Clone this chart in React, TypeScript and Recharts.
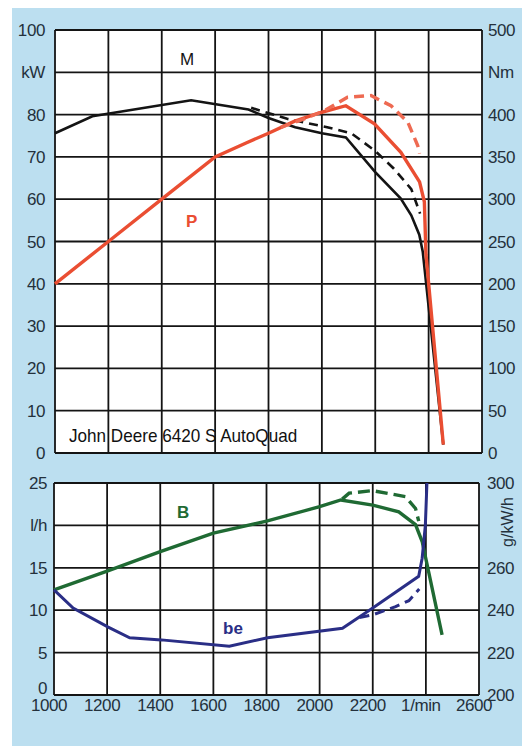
import React from 'react';
import { LineChart, Line, XAxis, YAxis, CartesianGrid } from 'recharts';

// engine speed axis (shared by both panels)
const rpmTicks = [1000, 1200, 1400, 1600, 1800, 2000, 2200, 2400, 2600];
const rpmTickLabels = ['1000', '1200', '1400', '1600', '1800', '2000', '2200', '1/min', '2600'];

// upper panel axes
const kwTicks = [0, 10, 20, 30, 40, 50, 60, 70, 80, 90, 100];
const kwTickLabels = ['0', '10', '20', '30', '40', '50', '60', '70', '80', 'kW', '100'];
const nmTicks = [0, 50, 100, 150, 200, 250, 300, 350, 400, 450, 500];
const nmTickLabels = ['0', '50', '100', '150', '200', '250', '300', '350', '400', 'Nm', '500'];

// lower panel axes
const lhTicks = [0, 5, 10, 15, 20, 25];
const lhTickLabels = ['0', '5', '10', '15', 'l/h', '25'];
const beTicks = [200, 220, 240, 260, 280, 300];
const beTickLabels = ['200', '220', '240', '260', '', '300'];

// M - torque (Nm)
const torqueRpm = [1000, 1140, 1510, 1725, 1800, 1900, 2000, 2090, 2200, 2295, 2335, 2365, 2378, 2455];
const torqueNm = [378, 398, 417, 406, 396, 385, 378, 373, 332, 301, 281, 258, 238, 10];
const torqueDashRpm = [1735, 1870, 2020, 2110, 2200, 2270, 2335, 2368];
const torqueDashNm = [408, 395, 385, 378, 357, 336, 312, 283];

// P - power (kW)
const powerRpm = [1000, 1200, 1400, 1600, 1716, 1800, 1896, 1996, 2090, 2197, 2296, 2366, 2384, 2390, 2455];
const powerKw = [40, 50, 60, 70, 73.3, 75.6, 78.4, 80.5, 82.1, 77.8, 71.1, 64.1, 59.4, 47, 2];
const powerDashRpm = [1846, 1934, 2009, 2096, 2184, 2259, 2322, 2359, 2366];
const powerDashKw = [77.0, 79.0, 80.9, 84.1, 84.5, 82.1, 78.2, 72.7, 70.8];

// B - fuel consumption (l/h)
const fuelRpm = [1000, 1200, 1400, 1600, 1800, 2000, 2080, 2200, 2298, 2361, 2386, 2461];
const fuelLh = [12.4, 14.6, 16.9, 19.1, 20.5, 22.2, 23.0, 22.4, 21.6, 20.1, 18.1, 7.1];
const fuelDashRpm = [2085, 2111, 2198, 2323, 2361, 2373];
const fuelDashLh = [23.1, 23.8, 24.1, 23.4, 22.0, 20.5];

// be - specific consumption (g/kWh)
const beRpm = [1000, 1072, 1204, 1285, 1404, 1660, 1804, 2086, 2200, 2373, 2386, 2398, 2404];
const beG = [249.6, 241, 232, 227, 226, 223, 227, 231.5, 241, 256, 264.5, 280, 300];
const beDashRpm = [2150, 2200, 2286, 2336, 2375];
const beDashG = [236.5, 237.8, 241.7, 244.5, 250];

const zip = (xs: number[], ys: number[]) => xs.map((rpm, i) => ({ rpm, v: ys[i] }));

const font = "'Liberation Sans', Arial, sans-serif";
const tickStyle = { fill: '#24313c', fontSize: 17, fontFamily: font, letterSpacing: -0.4 };
const label = (ticks: number[], labels: string[]) => (v: number) => labels[ticks.indexOf(v)] ?? '';

const RED = '#ea4e32';
const BLACK = '#141414';
const GREEN = '#1f6a33';
const BLUE = '#2a2e86';

// lower-left "0" sits a little higher so it clears the speed labels
const LowerLeftTick = (props: any) => {
  const { x, y, payload } = props;
  const lift = payload.value === 0 ? -7 : 0;
  return (
    <text x={x} y={y + lift} dy="0.355em" textAnchor="end" {...tickStyle}>
      {label(lhTicks, lhTickLabels)(payload.value)}
    </text>
  );
};

const text = (s: string, left: number, top: number, extra: React.CSSProperties = {}) => (
  <div style={{ position: 'absolute', left, top, fontFamily: font, fontSize: 17, lineHeight: 1, whiteSpace: 'nowrap', ...extra }}>
    {s}
  </div>
);

export default function App() {
  return (
    <div style={{ position: 'relative', margin: -8, width: 530, height: 754, background: '#fff', overflow: 'hidden' }}>
      <div style={{ position: 'absolute', left: 12, top: 8, width: 518, height: 741, background: '#bcdff0' }} />

      <div style={{ position: 'absolute', left: 0, top: 0 }}>
        <LineChart width={530} height={472} margin={{ top: 30, right: 0, left: 0, bottom: 19 }}>
          <CartesianGrid yAxisId="kw" stroke={BLACK} strokeWidth={1.8} fill="#fff" fillOpacity={1} />
          <XAxis type="number" dataKey="rpm" domain={[1000, 2600]} ticks={rpmTicks} hide />
          <YAxis yAxisId="kw" domain={[0, 100]} ticks={kwTicks} interval={0} width={55} axisLine={false} tickLine={false}
            tickSize={0} tickMargin={10} tick={tickStyle} tickFormatter={label(kwTicks, kwTickLabels)} />
          <YAxis yAxisId="nm" orientation="right" domain={[0, 500]} ticks={nmTicks} interval={0} width={48} axisLine={false}
            tickLine={false} tickSize={0} tickMargin={6} tick={tickStyle} tickFormatter={label(nmTicks, nmTickLabels)} />
          <Line yAxisId="nm" data={zip(torqueRpm, torqueNm)} dataKey="v" stroke={BLACK} strokeWidth={2.6} dot={false} isAnimationActive={false} />
          <Line yAxisId="nm" data={zip(torqueDashRpm, torqueDashNm)} dataKey="v" stroke={BLACK} strokeWidth={2.6} strokeDasharray="9 6" dot={false} isAnimationActive={false} />
          <Line yAxisId="kw" data={zip(powerRpm, powerKw)} dataKey="v" stroke={RED} strokeWidth={3.4} dot={false} isAnimationActive={false} />
          <Line yAxisId="kw" data={zip(powerDashRpm, powerDashKw)} dataKey="v" stroke="#ee6a52" strokeWidth={3.4} strokeDasharray="10 6" dot={false} isAnimationActive={false} />
        </LineChart>
      </div>

      <div style={{ position: 'absolute', left: 0, top: 470 }}>
        <LineChart width={530} height={270} margin={{ top: 13, right: 0, left: 0, bottom: 15 }}>
          <CartesianGrid yAxisId="lh" stroke={BLACK} strokeWidth={1.8} fill="#fff" fillOpacity={1} />
          <XAxis type="number" dataKey="rpm" domain={[1000, 2600]} ticks={rpmTicks} interval={0} height={30} axisLine={false}
            tickLine={false} tickSize={0} tickMargin={4} tick={{ ...tickStyle, dx: -5 }} tickFormatter={label(rpmTicks, rpmTickLabels)} />
          <YAxis yAxisId="lh" domain={[0, 25]} ticks={lhTicks} interval={0} width={54} axisLine={false} tickLine={false}
            tickSize={0} tickMargin={7} tick={<LowerLeftTick />} />
          <YAxis yAxisId="be" orientation="right" domain={[200, 300]} ticks={beTicks} interval={0} width={51} axisLine={false}
            tickLine={false} tickSize={0} tickMargin={8} tick={tickStyle} tickFormatter={label(beTicks, beTickLabels)} />
          <Line yAxisId="lh" data={zip(fuelRpm, fuelLh)} dataKey="v" stroke={GREEN} strokeWidth={3.4} dot={false} isAnimationActive={false} />
          <Line yAxisId="lh" data={zip(fuelDashRpm, fuelDashLh)} dataKey="v" stroke={GREEN} strokeWidth={3.4} strokeDasharray="12 6" dot={false} isAnimationActive={false} />
          <Line yAxisId="be" data={zip(beRpm, beG)} dataKey="v" stroke={BLUE} strokeWidth={3} dot={false} isAnimationActive={false} />
          <Line yAxisId="be" data={zip(beDashRpm, beDashG)} dataKey="v" stroke={BLUE} strokeWidth={3} strokeDasharray="10 6" dot={false} isAnimationActive={false} />
        </LineChart>
      </div>

      {text('M', 180, 51, { color: BLACK })}
      {text('P', 186, 213, { color: RED, fontWeight: 'bold' })}
      {text('John Deere 6420 S AutoQuad', 69, 426, { fontSize: 19, color: '#111', transform: 'scaleX(0.9)', transformOrigin: 'left top' })}
      {text('B', 177, 504, { color: GREEN, fontWeight: 'bold' })}
      {text('be', 223, 620, { color: BLUE, fontWeight: 'bold' })}
      <div style={{ position: 'absolute', left: 508, top: 522, transform: 'translate(-50%, -50%) rotate(-90deg)', fontFamily: font, fontSize: 16, color: '#24313c', whiteSpace: 'nowrap', lineHeight: 1 }}>
        g/kW/h
      </div>
    </div>
  );
}
